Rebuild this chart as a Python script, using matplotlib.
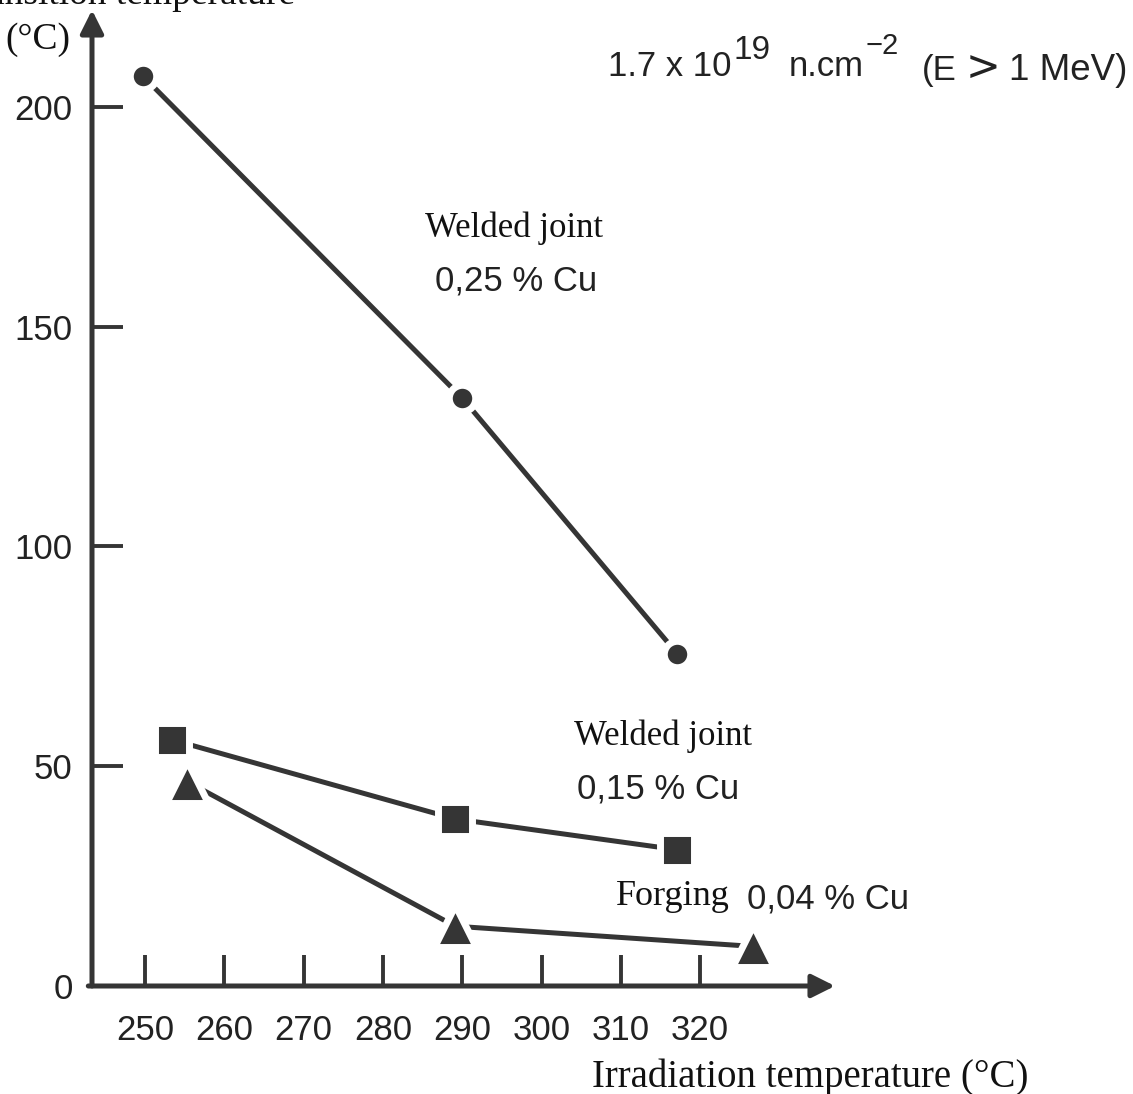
import matplotlib
matplotlib.use('Agg')
import matplotlib.pyplot as plt

plt.rcParams['font.family'] = ['Liberation Sans', 'DejaVu Sans']

# values
weld25_x = [249.7, 290.0, 317.1]
weld25_y = [207.0, 133.7, 75.6]
weld15_x = [253.4, 289.1, 317.1]
weld15_y = [56.0, 38.0, 31.0]
forge_x = [255.3, 289.1, 326.7]
forge_y = [46.5, 13.6, 9.0]

xticks = [250, 260, 270, 280, 290, 300, 310, 320]
yticks = [0, 50, 100, 150, 200]

ink = '#353535'
W, H = 1133, 1094

fig = plt.figure(figsize=(W / 100, H / 100), dpi=100)
ax = fig.add_axes([92 / W, 1 - 986 / H, 743 / W, 976 / H])
ax.set_xlim(243.3, 337.0)
ax.set_ylim(0, 222.0)

# the three series, white marker edge leaves a gap like in the print
ax.plot(weld25_x, weld25_y, color=ink, lw=3.6, marker='o', ms=19,
        mfc=ink, mec='white', mew=5)
ax.plot(weld15_x, weld15_y, color=ink, lw=3.6, marker='s', ms=24.5,
        mfc=ink, mec='white', mew=5)
ax.plot(forge_x, forge_y, color=ink, lw=3.6, marker='^', ms=30,
        mfc=ink, mec='white', mew=5)

# axes drawn as arrows
for s in ax.spines.values():
    s.set_visible(False)
ax.annotate('', xy=(0, 1.0), xytext=(0, 0), xycoords='axes fraction',
            arrowprops=dict(arrowstyle='-|>', lw=3.6, color=ink,
                            mutation_scale=35, shrinkA=0, shrinkB=0))
ax.annotate('', xy=(1.0, 0), xytext=(-0.005, 0), xycoords='axes fraction',
            arrowprops=dict(arrowstyle='-|>', lw=3.6, color=ink,
                            mutation_scale=35, shrinkA=0, shrinkB=0))

ax.set_xticks(xticks)
ax.set_yticks(yticks)
ax.set_xticklabels([str(t) for t in xticks])
ax.set_yticklabels([str(t) for t in yticks])
ax.tick_params(axis='x', direction='in', length=22, width=2.8, color=ink,
               labelsize=25, labelcolor='#222', pad=20)
ax.tick_params(axis='y', direction='in', length=22, width=2.8, color=ink,
               labelsize=25, labelcolor='#222', pad=14)

# annotations
serif = ['Liberation Serif', 'DejaVu Serif']
ax.text(296.5, 172.3, 'Welded joint', family=serif, fontsize=25,
        ha='center', va='center', color='#111')
ax.text(296.8, 160.3, '0,25 % Cu', fontsize=25, ha='center', va='center',
        color='#222')
ax.text(315.3, 56.8, 'Welded joint', family=serif, fontsize=25,
        ha='center', va='center', color='#111')
ax.text(314.7, 44.8, '0,15 % Cu', fontsize=25, ha='center', va='center',
        color='#222')
ax.text(316.5, 20.4, 'Forging', family=serif, fontsize=26,
        ha='center', va='center', color='#111')
ax.text(336.1, 19.9, '0,04 % Cu', fontsize=25, ha='center', va='center',
        color='#222', clip_on=False)

# fluence note, built from pieces so the exponents stay large
def px(x, y):
    return x / W, 1 - y / H

note = [
    ('1.7 x 10', 608, 76, 25, 'left'),
    ('19', 734, 59, 24, 'left'),
    ('n.cm', 789, 76, 25, 'left'),
    ('\u22122', 866, 54, 21, 'left'),
    ('(E', 922, 80, 25, 'left'),
    ('1 MeV)', 1127, 80, 26.5, 'right'),
]
for s, x, y, size, ha in note:
    fig.text(*px(x, y), s, fontsize=size, ha=ha, va='baseline', color='#222')
fig.text(*px(966, 80), '>', family=['DejaVu Sans'], fontsize=30,
         ha='left', va='baseline', color='#222')

fig.text(*px(295, 4), 'Transition temperature', family=serif,
         fontsize=27, ha='right', va='baseline', color='#111')
fig.text(*px(38, 40), '(°C)', family=serif, fontsize=27,
         ha='center', va='center', color='#111')
fig.text(*px(810, 1077), 'Irradiation temperature (°C)',
         family=serif, fontsize=28, ha='center', va='center', color='#111')

fig.savefig('out.png', dpi=100, facecolor='white')
